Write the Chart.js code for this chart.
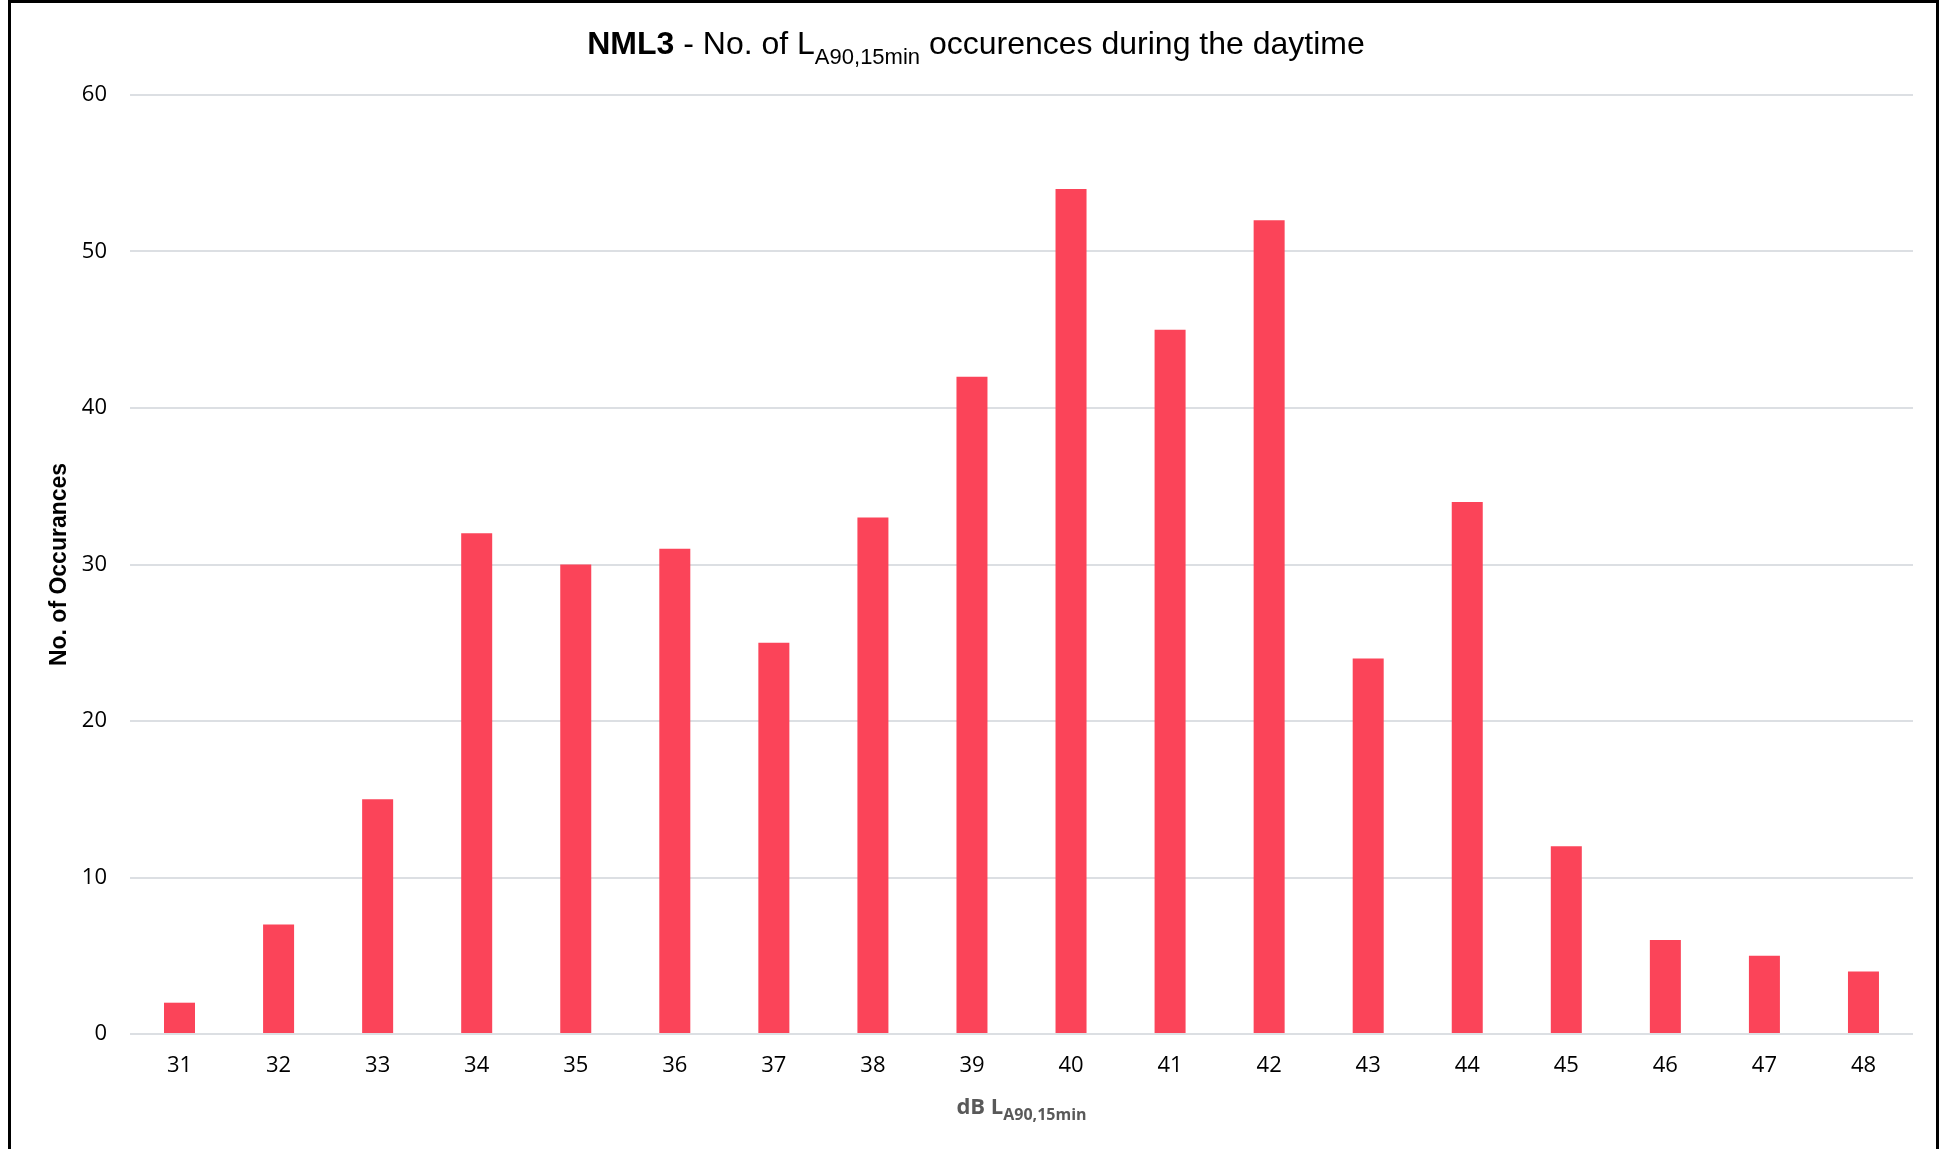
<!DOCTYPE html>
<html>
<head>
<meta charset="utf-8">
<title>NML3 - LA90 occurences</title>
<script src="https://cdn.jsdelivr.net/npm/chart.js@4.4.1/dist/chart.umd.min.js"></script>
<style>
    html, body { margin: 0; padding: 0; background: #fff; overflow: hidden; }
    #wrap { position: relative; width: 1948px; height: 1149px; }
    #frame { position: absolute; left: 8px; top: 0px; width: 1931px; height: 1200px; border: 3px solid #000; box-sizing: border-box; pointer-events: none; }
</style>
</head>
<body>
<div id="wrap">
    <canvas id="myChart" width="1948" height="1149"></canvas>
    <div id="frame"></div>
</div>
<script>
// dB bins and how many 15 min periods fell in each
const levels = ['31', '32', '33', '34', '35', '36', '37', '38', '39', '40', '41', '42', '43', '44', '45', '46', '47', '48'];
const occurrences = [2, 7, 15, 32, 30, 31, 25, 33, 42, 54, 45, 52, 24, 34, 12, 6, 5, 4];
const yTicks = [0, 10, 20, 30, 40, 50, 60];

// draws a run of text pieces, each with its own font / baseline shift
function drawRuns(ctx, runs, centerX, baseY, color) {
    ctx.save();
    ctx.fillStyle = color;
    ctx.textBaseline = 'alphabetic';
    ctx.textAlign = 'left';
    let total = 0;
    runs.forEach(r => { ctx.font = r.font; total += ctx.measureText(r.text).width; });
    let x = centerX - total / 2;
    runs.forEach(r => {
        ctx.font = r.font;
        ctx.fillText(r.text, x, baseY + (r.dy || 0));
        x += ctx.measureText(r.text).width;
    });
    ctx.restore();
}

const titles = {
    id: 'titles',
    afterDraw: function (chart) {
        const ctx = chart.ctx;
        const area = chart.chartArea;
        const arial = '"Liberation Sans", Arial, sans-serif';
        drawRuns(ctx, [
            {text: 'NML3', font: 'bold 32px ' + arial},
            {text: ' - No. of L', font: '32px ' + arial},
            {text: 'A90,15min', font: '22px ' + arial, dy: 10},
            {text: ' occurences during the daytime', font: '32px ' + arial}
        ], 976, 54, '#000');
        drawRuns(ctx, [
            {text: 'dB L', font: 'bold 22px "Open Sans", sans-serif'},
            {text: 'A90,15min', font: 'bold 16px "Open Sans", sans-serif', dy: 6}
        ], (area.left + area.right) / 2, 1114, '#595959');
    }
};

function setupBarChart() {
    const ctx = document.getElementById('myChart');
    const data = {
        labels: levels,
        datasets: [{
            label: 'No. of Occurances',
            data: occurrences,
            backgroundColor: '#FB4459',
            borderWidth: 0,
            categoryPercentage: 1,
            barPercentage: 0.313
        }]
    };
    const options = {
        responsive: false,
        animation: false,
        layout: {
            padding: {top: 95, right: 35, left: 0, bottom: 0}
        },
        plugins: {
            legend: {display: false},
            title: {display: false},
            tooltip: {enabled: false}
        },
        scales: {
            x: {
                grid: {display: false, drawTicks: false},
                border: {display: false},
                ticks: {
                    color: '#000',
                    padding: 19,
                    font: {family: '"Open Sans", sans-serif', size: 22}
                },
                afterFit: function (scale) { scale.height = 115; }
            },
            y: {
                min: 0,
                max: 60,
                afterBuildTicks: function (scale) {
                    scale.ticks = yTicks.map(v => ({value: v}));
                },
                grid: {color: '#dcdfe3', lineWidth: 2, drawTicks: false},
                border: {display: false},
                ticks: {
                    color: '#000',
                    padding: 23,
                    font: {family: '"Open Sans", sans-serif', size: 22}
                },
                title: {
                    display: true,
                    text: 'No. of Occurances',
                    color: '#000',
                    padding: {top: 46, bottom: 0},
                    font: {family: '"Liberation Sans", Arial, sans-serif', size: 23, weight: 'bold'}
                },
                afterFit: function (scale) { scale.width = 130; }
            }
        }
    };

    new Chart(ctx, {
        type: 'bar',
        data: data,
        options: options,
        plugins: [titles]
    });
}

setupBarChart();
</script>
</body>
</html>
